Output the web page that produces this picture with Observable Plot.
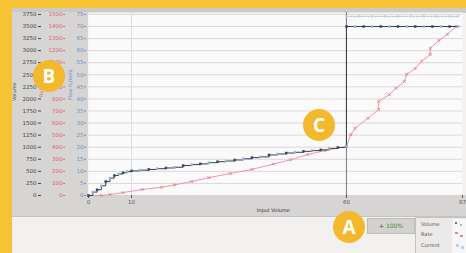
<!DOCTYPE html>
<html>
<head>
<meta charset="utf-8">
<script src="https://cdn.jsdelivr.net/npm/d3@7"></script>
<script src="https://cdn.jsdelivr.net/npm/@observablehq/plot@0.6"></script>
<style>
  html, body { margin: 0; padding: 0; background: #f2f1ef; }
  #wrap { position: relative; width: 466px; height: 253px; overflow: hidden; background: #f2f1ef; font-family: "DejaVu Sans", sans-serif; }
  .abs { position: absolute; }
  .badge { position: absolute; width: 32px; height: 32px; border-radius: 50%; background: #f2b92c; color: #fff;
           font-family: "Open Sans", sans-serif; font-weight: 700; font-size: 19px; line-height: 32px; text-align: center; }
  #plot { position: absolute; left: 0; top: 0; }
  .leg { position: absolute; font-size: 5px; color: #555; }
</style>
</head>
<body>
<div id="wrap">
  <div class="abs" style="left:12px;top:8px;width:454px;height:5px;background:#cbcac8"></div>
  <div class="abs" style="left:12px;top:12px;width:76px;height:184px;background:#d6d5d3"></div>
  <div class="abs" style="left:12px;top:195px;width:454px;height:21px;background:#d6d5d3"></div>
  <div class="abs" style="left:12px;top:216px;width:454px;height:1px;background:#c4c3c1"></div>
  <div id="plot"></div>
  <div class="abs" style="left:367px;top:218px;width:46px;height:14px;background:#d3d2d0;border:1px solid #bdbcba;font-size:6px;line-height:14px;color:#444;text-align:center">+ <span style="color:#3a8a3a">100%</span></div>
  <div class="abs" style="left:415px;top:217px;width:51px;height:36px;background:#ebeae8;border-left:1px solid #c5c4c2;border-top:1px solid #c5c4c2"></div>
  <div class="leg" style="left:421px;top:221px">Volume</div>
  <div class="leg" style="left:421px;top:231px">Rate</div>
  <div class="leg" style="left:421px;top:242px">Current</div>
  <div class="abs" style="left:452px;top:219px;width:14px;height:34px;background:#f7f7f7"></div>
  <div class="abs" style="left:455px;top:222px;width:2px;height:2px;background:#6a7d94"></div>
  <div class="abs" style="left:460px;top:224px;width:2px;height:2px;background:#9cc0e6"></div>
  <div class="abs" style="left:455px;top:232px;width:3px;height:2px;background:#e8828f"></div>
  <div class="abs" style="left:460px;top:235px;width:3px;height:2px;background:#e8828f"></div>
  <div class="abs" style="left:456px;top:244px;width:3px;height:3px;background:#bcd3ec"></div>
  <div class="abs" style="left:461px;top:246px;width:3px;height:3px;background:#bcd3ec"></div>
  <div class="abs" style="left:0;top:0;width:466px;height:8px;background:#f5c333"></div>
  <div class="abs" style="left:0;top:0;width:12px;height:253px;background:#f5c333"></div>
  <div class="badge" style="left:333px;top:211px">A</div>
  <div class="badge" style="left:33px;top:60px">B</div>
  <div class="badge" style="left:303px;top:109px">C</div>
</div>
<script>
// ---- data ----
const xTickValues = [0, 10, 60, 87];
const xTickLabels = ["0", "10", "60", "87"];
const yTicks = [0, 250, 500, 750, 1000, 1250, 1500, 1750, 2000, 2250, 2500, 2750, 3000, 3250, 3500, 3750];
const volumeLabels = ["0", "250", "500", "750", "1000", "1250", "1500", "1750", "2000", "2250", "2500", "2750", "3000", "3250", "3500", "3750"];
const rateLabels = ["0", "100", "200", "300", "400", "500", "600", "700", "800", "900", "1000", "1100", "1200", "1300", "1400", "1500"];
const flowLabels = ["0", "5", "10", "15", "20", "25", "30", "35", "40", "45", "50", "55", "60", "65", "70", "75"];

const volX = [0, 1, 2, 3, 4, 5, 6, 7, 8, 9, 10, 12, 14, 16, 18, 20, 22, 24, 26, 28, 30, 32, 34, 36, 38, 40, 42, 44, 46, 48, 50, 52, 54, 56, 58, 60, 60, 62, 64, 66, 68, 70, 72, 74, 76, 78, 80, 82, 84, 86];
const volY = [0, 70, 120, 200, 290, 360, 414, 445, 470, 495, 510, 525, 540, 555, 570, 585, 620, 640, 655, 680, 700, 715, 735, 760, 785, 800, 840, 860, 880, 895, 915, 930, 945, 975, 995, 1015, 3500, 3500, 3500, 3500, 3500, 3500, 3500, 3500, 3500, 3500, 3500, 3500, 3500, 3500];

const rateX = [0, 3, 5, 8, 12.5, 17, 20, 24, 28, 33, 38, 43, 47, 51, 55, 60, 61, 62, 65, 67.5, 67.5, 70, 71.5, 73.5, 74, 76, 77.5, 79.5, 79.5, 81.5, 83.5, 85.5];
const rateY = [0, 0, 20, 60, 124, 170, 220, 290, 370, 456, 540, 650, 740, 850, 930, 1015, 1260, 1390, 1600, 1780, 1950, 2090, 2220, 2360, 2510, 2630, 2780, 2920, 3050, 3210, 3340, 3500];

const capX = [60, 63, 66, 69, 72, 75, 78, 81, 84, 86];
const capY = [3710, 3710, 3710, 3710, 3710, 3710, 3710, 3710, 3710, 3710];

// ---- tables ----
const vol = volX.map((x, i) => ({x, y: volY[i], i}));
const rate = rateX.map((x, i) => ({x, y: rateY[i]}));
const cap = capX.map((x, i) => ({x, y: capY[i]}));

const chart = Plot.plot({
  width: 466,
  height: 253,
  marginLeft: 88,
  marginRight: 4,
  marginTop: 12,
  marginBottom: 58,
  style: {background: "transparent", fontFamily: "DejaVu Sans, sans-serif"},
  x: {domain: [0, 87]},
  y: {domain: [0, 3790]},
  marks: [
    Plot.frame({fill: "#fafafa", stroke: "none"}),
    Plot.gridY(yTicks, {stroke: "#d8cdd0", strokeOpacity: 0.8}),
    Plot.ruleX([10], {stroke: "#dedede"}),
    Plot.ruleX([60], {stroke: "#7a7a7a"}),
    Plot.axisY({ticks: yTicks, tickFormat: (d, i) => volumeLabels[i], dx: -47, tickSize: 3, tickPadding: 2, fontSize: 5.5, color: "#444"}),
    Plot.axisY({ticks: yTicks, tickFormat: (d, i) => rateLabels[i], dx: -23, tickSize: 2, tickPadding: 1, fontSize: 5.5, color: "#e0607a"}),
    Plot.axisY({ticks: yTicks, tickFormat: (d, i) => flowLabels[i], dx: -2, tickSize: 2, tickPadding: 1, fontSize: 5.5, color: "#6b8fc9"}),
    Plot.axisX({ticks: xTickValues, tickFormat: (d, i) => xTickLabels[i], tickSize: 3, tickPadding: 2, fontSize: 5.5, color: "#555"}),
    Plot.text(["Volume"], {frameAnchor: "left", dx: -74, dy: -3, rotate: -90, fontSize: 5, fill: "#555"}),
    Plot.text(["Rate"], {frameAnchor: "left", dx: -47, dy: -7, rotate: -90, fontSize: 5, fill: "#e0607a"}),
    Plot.text(["Flow (L/min)"], {frameAnchor: "left", dx: -18, dy: -4, rotate: -90, fontSize: 5, fill: "#6b8fc9"}),
    Plot.text(["Input Volume"], {frameAnchor: "bottom", x: 43, dy: 16, fontSize: 5, fill: "#333"}),
    Plot.line(cap, {x: "x", y: "y", stroke: "#9cc0e6", strokeWidth: 1, strokeDasharray: "2,1.5"}),
    Plot.dot(cap, {x: "x", y: "y", symbol: "square", r: 1.2, fill: "#b7d0ec"}),
    Plot.line(rate, {x: "x", y: "y", stroke: "#ec8c98", strokeWidth: 0.9}),
    Plot.dot(rate, {x: "x", y: "y", symbol: "times", r: 1.4, stroke: "#e2707f", strokeWidth: 0.8}),
    Plot.line(vol, {x: "x", y: "y", curve: "step-after", stroke: "#34404e", strokeWidth: 1}),
    Plot.dot(vol, {x: "x", y: "y", symbol: "square", r: 1.4, fill: d => d.i % 2 ? "#8fb3da" : "#3a4656"})
  ]
});
document.getElementById("plot").appendChild(chart);
</script>
</body>
</html>
